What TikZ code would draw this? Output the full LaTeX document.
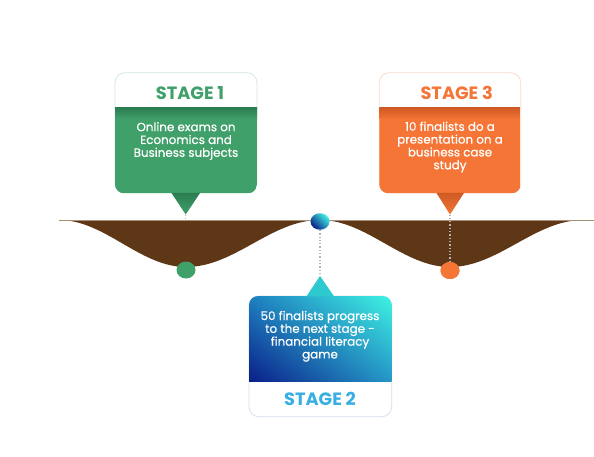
\documentclass[tikz,border=0pt]{standalone}
\usepackage{fontspec}
\setmainfont{Poppins}
\newfontfamily\medfont{Poppins}[FakeBold=0.7]
\usetikzlibrary{shapes.geometric,shadings}
\definecolor{sgreen}{HTML}{40A06A}
\definecolor{sgreendark}{HTML}{2C7D52}
\definecolor{sgreenlight}{HTML}{D5E8DC}
\definecolor{sorange}{HTML}{F47535}
\definecolor{sorangedark}{HTML}{CF5A24}
\definecolor{sorangelight}{HTML}{FADBCB}
\definecolor{scyan}{HTML}{3FF3E3}
\definecolor{sblue}{HTML}{1E7FC0}
\definecolor{snavy}{HTML}{0A1E88}
\definecolor{sbluelight}{HTML}{D6DEEC}
\definecolor{stitleblue}{HTML}{38AEE2}
\definecolor{striangle}{HTML}{2DC9CF}
\definecolor{sbrown}{HTML}{5E3716}
\definecolor{stan}{HTML}{A89078}
\definecolor{sdotted}{HTML}{B4B4B4}
\begin{document}
\begin{tikzpicture}[x=1pt,y=-1pt,
  card/.style={fill=white, rounded corners=10pt, line width=0.8pt},
  title/.style={font=\fontsize{17.8}{18}\selectfont\bfseries, inner sep=0pt},
  body/.style={font=\medfont\fontsize{11.9}{12.8}\selectfont, text=white, align=center, inner sep=0pt},
  dotline/.style={draw=sdotted, line width=1.3pt, dash pattern=on 1.3pt off 2pt},
  dot/.style={ellipse, minimum width=19pt, minimum height=17pt, inner sep=0pt}]
\useasboundingbox (0,0) rectangle (594,457);
\fill[white] (0,0) rectangle (594,457);

% ---------- brown wave ----------
\fill[sbrown] (59,220)
  .. controls (105,220) and (140,267) .. (186,267)
  .. controls (235,267) and (271,220) .. (320,220)
  .. controls (367,220) and (403,267) .. (450,267)
  .. controls (498,267) and (535,220) .. (583,220)
  -- cycle;
\draw[stan, line width=0.9pt] (59,220) -- (594,220);

% ---------- dots ----------
\node[dot, fill=sgreen] (d1) at (186,270) {};
\node[dot, fill=sorange] (d3) at (450,270.5) {};

% ---------- Stage 1 ----------
\draw[card, draw=sgreenlight] (115,72.7) rectangle (257,193.3);
\begin{scope}
  \clip[rounded corners=9pt] (115,90) rectangle (257,193.3);
  \fill[sgreen] (115,107.7) rectangle (257,193.3);
  \shade[top color=sgreendark, bottom color=sgreen] (115,107.7) rectangle (257,119);
\end{scope}
\shade[top color=sgreendark, bottom color=sgreen] (171.5,193) -- (200,193) -- (185.7,214.5) -- cycle;
\coordinate (t1) at (185.7,214.5);
\coordinate (l1) at (185.7,220);
\draw[dotline] (t1) -- (l1);
\node[title, text=sgreen] (s1) at (190,93.3) {STAGE 1};
\node[body] (b1) at (186,141) {Online exams on\\Economics and\\Business subjects};

% ---------- Stage 3 ----------
\draw[card, draw=sorangelight] (379.3,72.7) rectangle (520.7,193.3);
\begin{scope}
  \clip[rounded corners=9pt] (379.3,90) rectangle (520.7,193.3);
  \fill[sorange] (379.3,107.7) rectangle (520.7,193.3);
  \shade[top color=sorangedark, bottom color=sorange] (379.3,107.7) rectangle (520.7,119);
\end{scope}
\shade[top color=sorangedark, bottom color=sorange] (436.5,193) -- (464,193) -- (450,214.5) -- cycle;
\coordinate (t3) at (450,214.5);
\draw[dotline] (t3) -- (d3.center);
\node[dot, fill=sorange] at (450,270.5) {};
\node[title, text=sorange] (s3) at (456.7,92.7) {STAGE 3};
\node[body] (b3) at (450,147) {10 finalists do a\\presentation on a\\business case\\study};

% ---------- Stage 2 ----------
\draw[card, draw=sbluelight] (249,296) rectangle (391.7,416.7);
\begin{scope}
  \clip[rounded corners=9pt] (249,296) rectangle (391.7,400);
  \shade[upper right=scyan, upper left=sblue, lower left=snavy, lower right=sblue!80!scyan]
    (249,296) rectangle (391.7,381.7);
\end{scope}
\fill[striangle] (306.5,296.3) -- (334,296.3) -- (320,276) -- cycle;
\coordinate (t2) at (320,276);
\node[dot, minimum height=16.5pt, top color=scyan, bottom color=snavy, shading angle=-45] (d2) at (320,221.5) {};
\draw[dotline] (d2.south) -- (t2);
\node[title, text=stitleblue] (s2) at (320,399.3) {STAGE 2};
\node[body] (b2) at (320,336.3) {50 finalists progress\\to the next stage -\\financial literacy\\game};
\end{tikzpicture}
\end{document}
